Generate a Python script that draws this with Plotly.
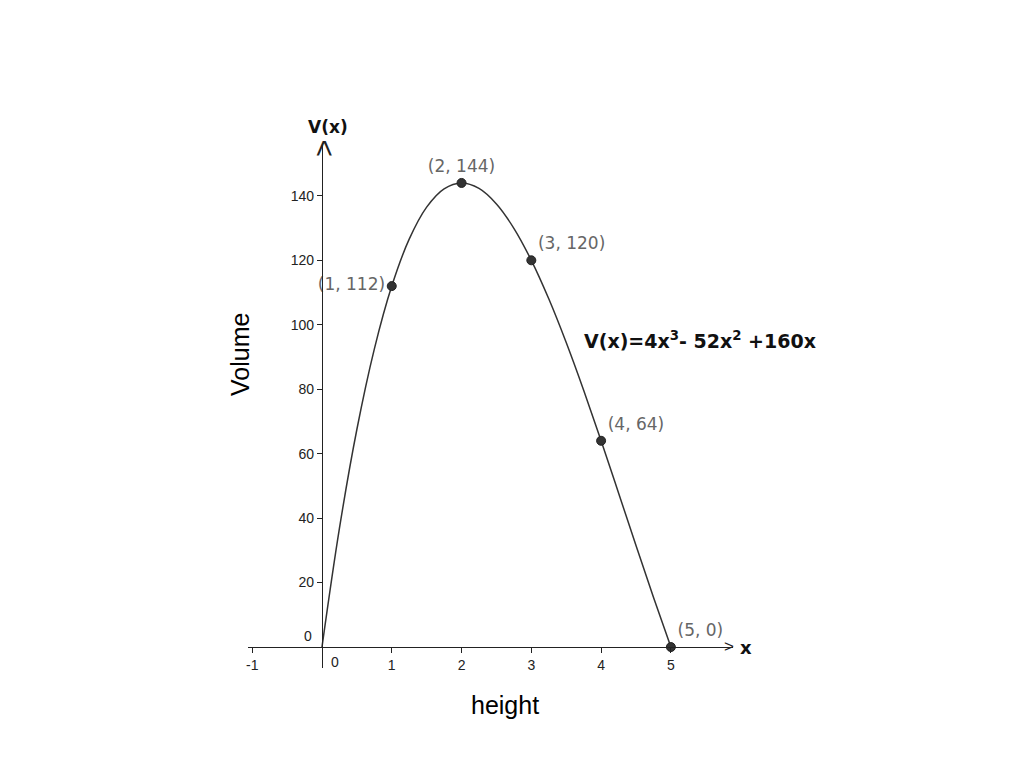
import plotly.graph_objects as go

# curve samples of V(x) = 4x^3 - 52x^2 + 160x
curve_x = [0, 0.25, 0.5, 0.75, 1, 1.25, 1.5, 1.75, 2, 2.25, 2.5, 2.75, 3,
           3.25, 3.5, 3.75, 4, 4.25, 4.5, 4.75, 5]
curve_y = [0, 36.81, 67.5, 92.44, 112, 126.56, 136.5, 142.19, 144, 142.31,
           137.5, 129.94, 120, 108.06, 94.5, 79.69, 64, 47.81, 31.5, 15.44, 0]

# labelled points
pt_x = [1, 2, 3, 4, 5]
pt_y = [112, 144, 120, 64, 0]
pt_labels = ["(1, 112)", "(2, 144)", "(3, 120)", "(4, 64)", "(5, 0)"]
pt_pos = ["middle left", "top center", "top right", "top right", "top right"]

x_ticks = [-1, 1, 2, 3, 4, 5]
x_tick_text = ["-1", "1", "2", "3", "4", "5"]
y_ticks = [20, 40, 60, 80, 100, 120, 140]
y_tick_text = ["20", "40", "60", "80", "100", "120", "140"]

X_RANGE = [-1.06, 5.89]
Y_RANGE = [-6.5, 156.4]

FONT = "Liberation Sans, Arial, sans-serif"
LABEL_FONT = "DejaVu Sans, sans-serif"

fig = go.Figure()
fig.add_trace(go.Scatter(x=curve_x, y=curve_y, mode="lines",
                         line=dict(color="#333333", width=1.5, shape="spline"),
                         hoverinfo="skip", showlegend=False))
fig.add_trace(go.Scatter(x=pt_x, y=pt_y, mode="markers+text",
                         marker=dict(color="#333333", size=9,
                                     line=dict(color="#222222", width=1)),
                         text=pt_labels, textposition=pt_pos,
                         textfont=dict(family=LABEL_FONT, size=17, color="#666666"),
                         showlegend=False))

yaxis_pos = (0 - X_RANGE[0]) / (X_RANGE[1] - X_RANGE[0])
xaxis_pos = (0 - Y_RANGE[0]) / (Y_RANGE[1] - Y_RANGE[0])

fig.update_layout(
    width=1024, height=768,
    margin=dict(l=240, r=299, t=135, b=108),
    plot_bgcolor="white", paper_bgcolor="white",
    font=dict(family=FONT, color="#222222"),
    xaxis=dict(range=X_RANGE, showgrid=False, zeroline=False,
               showline=True, linecolor="#222222", linewidth=1.3,
               anchor="free", position=xaxis_pos,
               tickvals=x_ticks, ticktext=x_tick_text,
               ticks="outside", ticklen=5, tickcolor="#222222",
               tickfont=dict(size=14, color="#222222")),
    yaxis=dict(range=Y_RANGE, showgrid=False, zeroline=False,
               showline=True, linecolor="#222222", linewidth=1.3,
               anchor="free", position=yaxis_pos,
               tickvals=y_ticks, ticktext=y_tick_text,
               ticks="outside", ticklen=5, tickcolor="#222222",
               tickfont=dict(size=14, color="#222222")),
)

PW, PH = 485, 525  # plot area size in px


def px(xp):
    return (xp - 248) / PW


def py(yp):
    return (668 - yp) / PH


annotations = [
    # zero labels
    dict(x=0, y=0, xref="x", yref="y", text="0", showarrow=False,
         xanchor="right", yanchor="bottom", xshift=-8, yshift=1,
         font=dict(size=14, color="#222222")),
    dict(x=0, y=0, xref="x", yref="y", text="0", showarrow=False,
         xanchor="left", yanchor="top", xshift=7, yshift=-5,
         font=dict(size=14, color="#222222")),
    # axis names
    dict(x=0, y=Y_RANGE[1], xref="x", yref="y", text="<b>V(x)</b>",
         showarrow=False, xanchor="center", yanchor="bottom", xshift=6,
         yshift=4, font=dict(family=LABEL_FONT, size=17, color="#111111")),
    dict(x=X_RANGE[1], y=0, xref="x", yref="y", text="<b>x</b>",
         showarrow=False, xanchor="left", yanchor="middle", xshift=5,
         font=dict(family=LABEL_FONT, size=18, color="#111111")),
    # axis arrow heads
    dict(x=X_RANGE[1], y=0, xref="x", yref="y", text=">", showarrow=False,
         xanchor="right", yanchor="middle", xshift=3, yshift=1,
         font=dict(size=17, color="#222222")),
    dict(x=0, y=Y_RANGE[1], xref="x", yref="y", text=">", showarrow=False,
         textangle=-90, xanchor="center", yanchor="top", yshift=6, xshift=1,
         font=dict(size=30, color="#222222")),
    # equation
    dict(x=px(582), y=py(340), xref="paper", yref="paper",
         text="<b>V(x)=4x<sup>3</sup>- 52x<sup>2</sup> +160x</b>",
         showarrow=False, xanchor="left", yanchor="middle",
         font=dict(family=LABEL_FONT, size=19, color="#111111")),
    # slide titles
    dict(x=px(240), y=py(355), xref="paper", yref="paper",
         text="Volume", textangle=-90, showarrow=False,
         xanchor="center", yanchor="middle",
         font=dict(size=25, color="#000000")),
    dict(x=px(505), y=py(705), xref="paper", yref="paper",
         text="height", showarrow=False, xanchor="center", yanchor="middle",
         font=dict(size=25, color="#000000")),
]
fig.update_layout(annotations=annotations)

fig.write_html("out.html")
